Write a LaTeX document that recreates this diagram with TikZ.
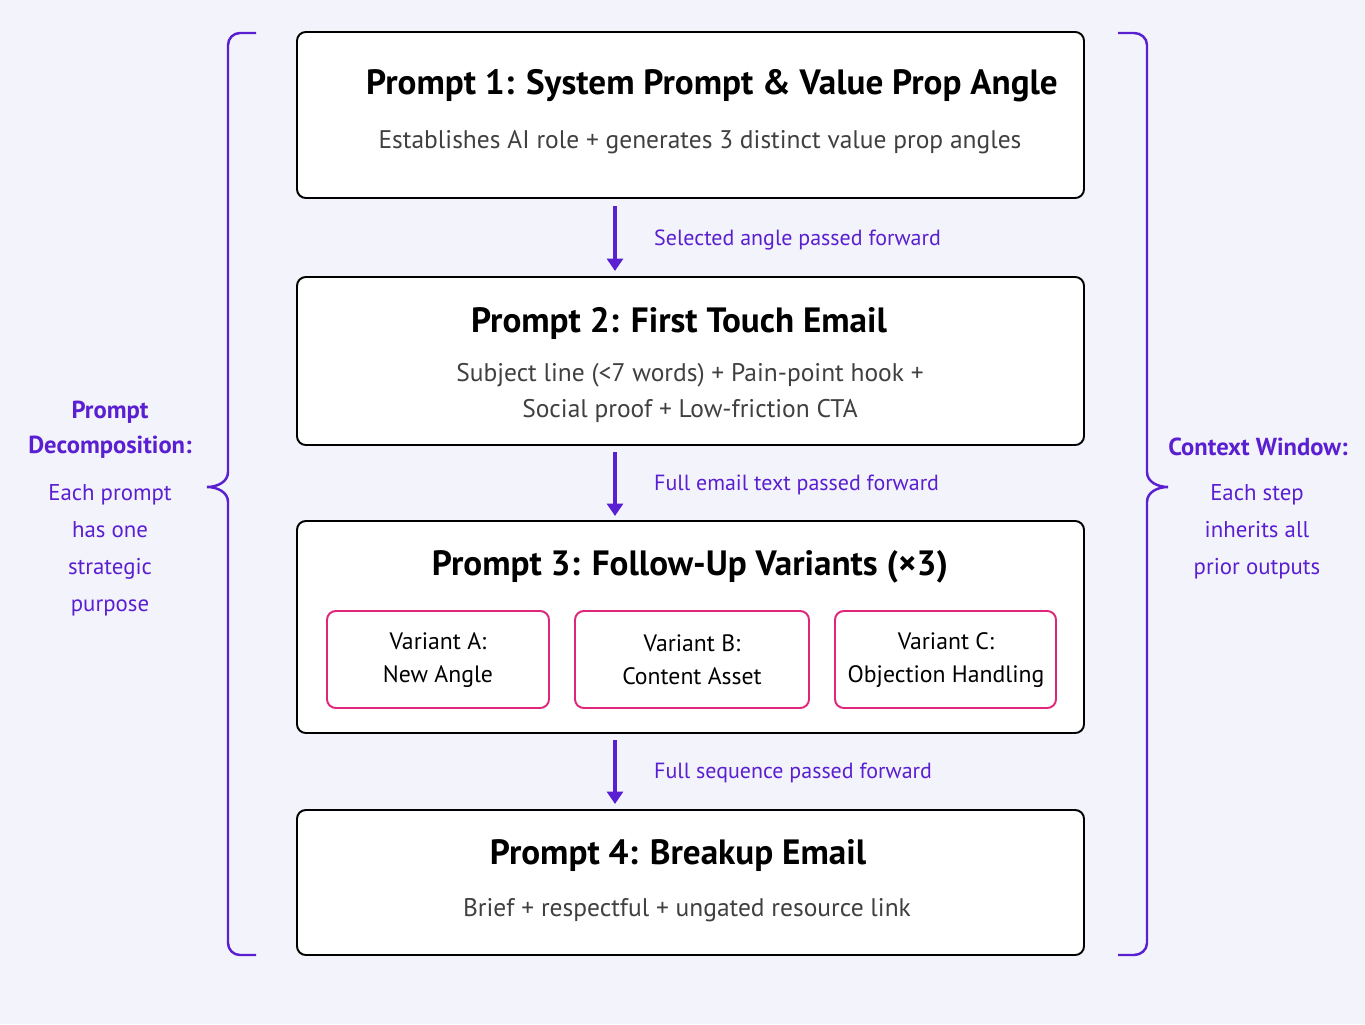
\documentclass[tikz,border=0pt]{standalone}
\usepackage{fontspec}
\setmainfont{PT Sans}
\usetikzlibrary{arrows.meta,decorations.pathreplacing}
\definecolor{bg}{HTML}{F3F4FB}
\definecolor{purp}{HTML}{5A1FD1}
\definecolor{pink}{HTML}{E0267A}
\tikzset{
 box/.style={draw=black,line width=1.1pt,rounded corners=5pt,fill=white},
 var/.style={draw=pink,line width=1.1pt,rounded corners=5pt,fill=white},
 ttl/.style={font=\bfseries\fontsize{20}{22}\selectfont},
 sub/.style={font=\fontsize{14.5}{21}\selectfont,text=black!75,align=center},
 vt/.style={font=\fontsize{13.5}{19}\selectfont,align=center},
 arr/.style={draw=purp,line width=1.8pt,-{Triangle[length=7pt,width=9pt]}},
 lab/.style={font=\fontsize{12.5}{15}\selectfont,text=purp,anchor=west},
 side/.style={font=\fontsize{13}{21}\selectfont,text=purp,align=center},
 sidet/.style={font=\bfseries\fontsize{14}{20}\selectfont,text=purp,align=center},
 brace/.style={draw=purp,line width=1.4pt}
}
\begin{document}
\begin{tikzpicture}[x=0.02cm,y=-0.02cm]
\fill[bg] (0,0) rectangle (1365,1024);
\path[box] (297,32) rectangle (1084,198);
\path[box] (297,277) rectangle (1084,445);
\path[box] (297,521) rectangle (1084,733);
\path[box] (297,810) rectangle (1084,955);
\node[ttl] (t1) at (712,86) {Prompt 1: System Prompt \& Value Prop Angle};
\node[sub] (s1) at (700,142) {Establishes AI role + generates 3 distinct value prop angles};
\node[ttl] (t2) at (679,323) {Prompt 2: First Touch Email};
\node[sub] (s2) at (690,393) {Subject line (<7 words) + Pain-point hook +\\Social proof + Low-friction CTA};
\node[ttl] (t3) at (690,567) {Prompt 3: Follow-Up Variants (×3)};
\path[var] (327,611) rectangle (549,708);
\path[var] (575,611) rectangle (809,708);
\path[var] (835,611) rectangle (1056,708);
\node[vt] (va) at (438,660) {Variant A:\\New Angle};
\node[vt] (vb) at (692,660) {Variant B:\\Content Asset};
\node[vt] (vc) at (946,660) {Variant C:\\Objection Handling};
\node[ttl] (t4) at (678,856) {Prompt 4: Breakup Email};
\node[sub] (s4) at (687,910) {Brief + respectful + ungated resource link};
\coordinate (a1) at (615,206); \coordinate (b1) at (615,271);
\coordinate (a2) at (615,452); \coordinate (b2) at (615,516);
\coordinate (a3) at (615,740); \coordinate (b3) at (615,804);
\draw[arr] (a1) -- (b1); \draw[arr] (a2) -- (b2); \draw[arr] (a3) -- (b3);
\node[lab] (l1) at (648,240) {Selected angle passed forward};
\node[lab] (l2) at (648,485) {Full email text passed forward};
\node[lab] (l3) at (648,773) {Full sequence passed forward};
\draw[brace] (256,33) -- (240,33) to[out=180,in=90] (228,45) -- (228,472) to[out=-90,in=0] (207,487) to[out=0,in=90] (228,502) -- (228,943) to[out=-90,in=180] (240,955) -- (256,955);
\draw[brace] (1118,33) -- (1134,33) to[out=0,in=90] (1147,45) -- (1147,472) to[out=-90,in=180] (1168,487) to[out=180,in=90] (1147,502) -- (1147,943) to[out=-90,in=0] (1134,955) -- (1118,955);
\node[sidet] (lt) at (110,430) {Prompt\\Decomposition:};
\node[side] (lb) at (110,550) {Each prompt\\has one\\strategic\\purpose};
\node[sidet] (rt) at (1258,447) {Context Window:};
\node[side] (rb) at (1257,532) {Each step\\inherits all\\prior outputs};
\end{tikzpicture}
\end{document}
